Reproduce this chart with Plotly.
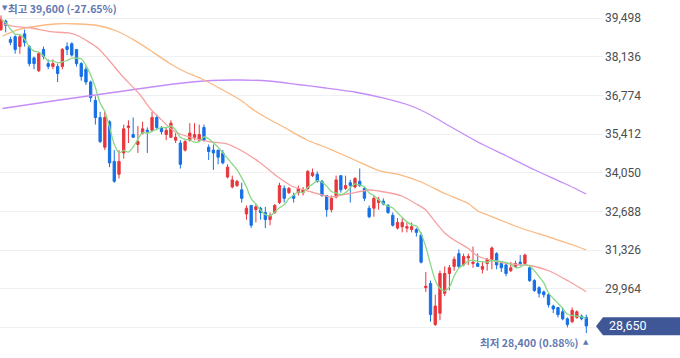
import plotly.graph_objects as go
import pandas as pd

# ---------------- data (daily candles, oldest first) ----------------
idx = list(range(125))
opens = [39100,39400,38750,38850,38500,38950,38500,38100,37650,38400,
         37900,37800,37800,37800,38500,38600,38400,37900,37700,37250,
         36600,36000,34950,35850,34450,34000,34750,35650,35400,35050,
         35450,35550,35550,36000,35650,35400,35300,35200,35100,34850,
         35200,35300,35200,35650,34950,34850,34850,34750,33900,33550,
         33600,33450,32600,32900,32750,32800,32650,32400,32650,33000,
         33500,33350,33250,33350,33350,33500,33950,34000,33750,33250,
         32750,33200,33950,33500,33700,33550,33750,33500,32800,32800,
         33000,33050,32900,32550,32100,32150,32100,32050,32050,31850,
         30000,30150,28700,29100,29800,30500,30750,31200,30800,31050,
         30850,30850,30650,30850,31000,31200,30850,30800,30600,30750,
         30900,30850,30700,30250,30000,29850,29750,29350,29300,29150,
         28900,28800,28950,29000,28950]
highs = [39600,39450,38850,38900,38900,39100,38550,38150,38300,38500,
         38050,38050,37900,38450,38650,38650,38400,37950,37800,37300,
         36750,36200,36200,35900,34850,34850,35750,35900,36000,35700,
         35850,35650,36200,36100,35700,35650,35900,35450,35200,35200,
         35800,35800,35750,35750,35050,35050,34850,34850,34350,33950,
         33800,33700,32900,32900,32950,32850,32850,32650,32950,33700,
         33600,33550,33350,33600,33550,34150,34200,34100,33800,33250,
         33250,33950,33950,33950,33800,33900,34200,33550,32900,33250,
         33200,33150,32950,32650,32450,32450,32300,32300,32100,31950,
         30550,30250,29750,30600,30750,30800,31100,31350,31200,31200,
         31450,31200,30900,31050,31450,31250,30900,30850,30900,30950,
         31150,31200,30800,30300,30050,29900,29800,29400,29300,29300,
         28950,29300,29200,29050,29050]
lows = [39050,39000,38550,38250,38250,38500,37800,37700,37600,38050,
        37700,37700,37250,37700,38200,38150,37800,37300,37150,36550,
        35750,35100,34850,34250,33700,33850,34550,35100,35300,34750,
        35400,34750,35500,35550,35400,35200,35300,35100,34200,34800,
        35150,35200,35150,35150,34500,34150,34350,34350,33850,33500,
        33550,33000,32400,32100,32300,32400,32100,32200,32600,32950,
        33000,33300,33000,33250,33250,33450,33900,33700,33200,32500,
        32650,33150,33350,33450,33000,33500,33550,33050,32450,32500,
        32750,32900,32600,32150,32050,31950,31950,31950,31800,30850,
        29850,28800,28650,28850,29700,29900,30600,30700,30750,30800,
        30700,30750,30500,30600,30650,30650,30550,30400,30550,30700,
        30750,30850,30200,29850,29650,29650,29300,29100,28950,28850,
        28600,28750,28900,28850,28400]
closes = [39450,39250,38650,38400,38850,38650,37900,37900,38250,38150,
          37800,37900,37550,38400,38400,38200,37900,37450,37250,36700,
          36000,35150,36000,34400,33750,34450,35600,35700,35300,35150,
          35600,35500,36000,35650,35500,35550,35800,35300,34350,35150,
          35450,35400,35400,35200,34800,34750,34600,34400,34250,33800,
          33750,33150,32800,32200,32850,32650,32400,32550,32900,33600,
          33150,33500,33150,33500,33450,34100,34050,33750,33250,32750,
          33150,33800,33450,33600,33600,33850,33600,33150,32500,33150,
          33100,32950,32650,32200,32300,32300,32150,32150,31950,30900,
          30050,29050,29350,30500,30500,30700,31000,30750,31100,31100,
          30900,30750,30750,31000,31400,30800,30700,30500,30700,30850,
          30850,31150,30250,29900,29800,29750,29400,29250,29050,28900,
          28700,29200,29150,28900,28650]

# moving averages (day index, value); MA5 derived from closes
ma5 = pd.Series(closes).rolling(5, min_periods=1).mean().tolist()
ma20_x = [0.3,3.3,6.4,10.4,14.4,16.4,20.5,22.5,25.5,29.5,31.5,33.6,36.6,40.6,44.6,47.7,50.7,54.7,58.7,61.8,
          65.8,69.8,73.9,77.9,81.9,84.9,88,90,92,94,96,99,101,105.1,109.1,112.1,116.2,120.2,124]
ma20_y = [39314,39202,39156,39026,38980,38874,38451,38098,37499,36794,36335,35982,35524,35277,35136,35083,34854,34431,33902,33567,
          33373,33197,33320,33444,33356,33232,32950,32739,32316,31928,31681,31381,31116,30922,30817,30782,30588,30235,29858]
ma60_x = [0.3,3.3,6.4,11.4,16.4,20.5,24.5,28.5,31.5,35.6,38.6,42.6,46.6,50.7,53.7,56.7,59.7,64.8,67.8,69.8,
          74.9,79.9,84.9,89,94,99,101,103.1,110.1,116.1,121.2,124]
ma60_y = [38874,39085,39191,39297,39297,39244,39050,38700,38380,37922,37640,37358,37005,36617,36247,35947,35683,35207,35013,34879,
          34501,34138,33962,33726,33320,32968,32703,32562,32104,31786,31504,31328]
ma120_x = [0.3,12.4,24.5,36.6,44.6,50.7,56.7,62.8,68.8,74.9,80.9,86.9,91,95,101,107.1,113.1,119.2,124]
ma120_y = [36317,36617,36899,37181,37305,37322,37287,37164,37040,36899,36688,36405,36088,35700,35136,34642,34149,33690,33303]

tick_vals = [28602, 29964, 31326, 32688, 34050, 35412, 36774, 38136, 39498]
tick_text = ["", "29,964", "31,326", "32,688", "34,050", "35,412", "36,774", "38,136", "39,498"]

last_price = 28650
high_text = "최고 39,600 (-27.65%)"
low_text = "최저 28,400 (0.88%)"

RED = "#e8363c"
BLUE = "#1570e6"
LABEL = "#6378b2"

fig = go.Figure()
for xs, ys, col in [(ma120_x, ma120_y, "#c48cf8"), (ma60_x, ma60_y, "#fbb981"),
                    (ma20_x, ma20_y, "#f6a0a0")]:
    fig.add_trace(go.Scatter(x=xs, y=ys, mode="lines",
                             line=dict(color=col, width=1.3, shape="spline", smoothing=0.6),
                             hoverinfo="skip", showlegend=False))
fig.add_trace(go.Scatter(x=idx, y=ma5, mode="lines",
                         line=dict(color="#88d985", width=1.3, shape="spline", smoothing=0.8),
                         hoverinfo="skip", showlegend=False))

fig.add_trace(go.Candlestick(
    x=idx, open=opens, high=highs, low=lows, close=closes,
    increasing=dict(line=dict(color=RED, width=1), fillcolor=RED),
    decreasing=dict(line=dict(color=BLUE, width=1), fillcolor=BLUE),
    whiskerwidth=0, showlegend=False))

PW = 603.0
H = 358.0


def px(x):
    return x / PW


def py(y):
    return 1 - y / H


# current price badge
fig.add_shape(type="path", xref="paper", yref="paper",
              path=(f"M {px(596)} {py(326.3)} L {px(603)} {py(317.3)} L {px(700)} {py(317.3)} "
                    f"L {px(700)} {py(335.3)} L {px(603)} {py(335.3)} Z"),
              fillcolor="#3f5796", line=dict(width=0), layer="above")
fig.add_annotation(x=px(607), y=last_price, xref="paper", yref="y", text=f"{last_price:,}", showarrow=False,
                   xanchor="left", yanchor="middle", font=dict(color="white", size=12.5, family="Roboto"))

# high / low labels
fig.add_annotation(x=px(0), y=py(8.5), xref="paper", yref="paper", text="▼", showarrow=False,
                   xanchor="left", yanchor="middle", font=dict(color=LABEL, size=7, family="DejaVu Sans"))
fig.add_annotation(x=px(6), y=py(8.5), xref="paper", yref="paper", text="<b>" + high_text + "</b>", showarrow=False,
                   xanchor="left", yanchor="middle", font=dict(color=LABEL, size=10.5, family="Noto Sans CJK KR"))
fig.add_annotation(x=px(581), y=py(342), xref="paper", yref="paper", text="<b>" + low_text + "</b>", showarrow=False,
                   xanchor="right", yanchor="middle", font=dict(color=LABEL, size=10.5, family="Noto Sans CJK KR"))
fig.add_annotation(x=px(591), y=py(342), xref="paper", yref="paper", text="▲", showarrow=False,
                   xanchor="right", yanchor="middle", font=dict(color=LABEL, size=7, family="DejaVu Sans"))

fig.update_layout(
    width=680, height=358, margin=dict(l=0, r=77, t=0, b=0, pad=0),
    paper_bgcolor="white", plot_bgcolor="white", showlegend=False,
    xaxis=dict(range=[-0.21, 127.54], visible=False, rangeslider=dict(visible=False), fixedrange=True),
    yaxis=dict(side="right", range=[27520, 40143], tickvals=tick_vals, ticktext=tick_text,
               showgrid=True, gridcolor="#eef0f4", gridwidth=1, zeroline=False, showline=False, ticks="",
               tickfont=dict(size=12, color="#4d4d4d", family="Roboto"), ticklabelstandoff=1, fixedrange=True),
)

fig.write_html("out.html", config={"displayModeBar": False, "staticPlot": True},
               post_script="document.body.style.margin='0';")
